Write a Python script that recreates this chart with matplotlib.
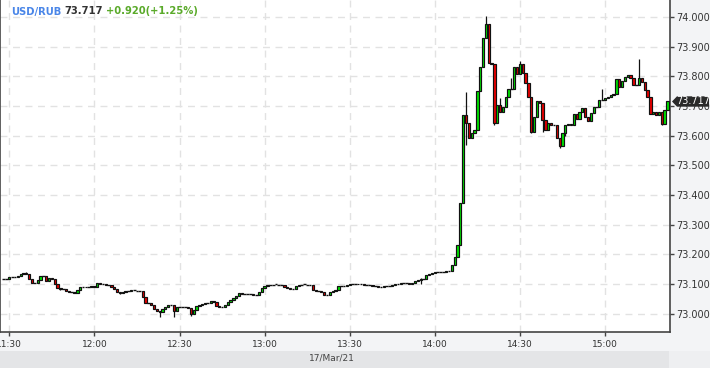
import matplotlib
matplotlib.use("Agg")
import matplotlib.pyplot as plt
from matplotlib.patches import Polygon, Rectangle
import numpy as np

# ---------------- data ----------------
closes = [
    73.118, 73.118, 73.125, 73.125, 73.125, 73.128, 73.135, 73.138, 73.135, 73.118,
    73.104, 73.104, 73.114, 73.128, 73.128, 73.111, 73.121, 73.118, 73.101, 73.088,
    73.084, 73.084, 73.077, 73.074, 73.074, 73.071, 73.081, 73.091, 73.090, 73.092,
    73.091, 73.093, 73.091, 73.104, 73.101, 73.101, 73.098, 73.098, 73.091, 73.084,
    73.074, 73.071, 73.074, 73.078, 73.077, 73.079, 73.078, 73.077, 73.077, 73.057,
    73.037, 73.037, 73.030, 73.017, 73.010, 73.007, 73.017, 73.024, 73.030, 73.030,
    73.010, 73.024, 73.024, 73.023, 73.024, 73.020, 73.000, 73.013, 73.027, 73.030,
    73.034, 73.037, 73.037, 73.044, 73.040, 73.027, 73.024, 73.024, 73.030, 73.040,
    73.047, 73.054, 73.061, 73.071, 73.068, 73.067, 73.068, 73.067, 73.064, 73.064,
    73.074, 73.088, 73.094, 73.097, 73.098, 73.099, 73.098, 73.097, 73.098, 73.091,
    73.088, 73.084, 73.084, 73.094, 73.098, 73.099, 73.098, 73.097, 73.098, 73.081,
    73.077, 73.077, 73.074, 73.064, 73.064, 73.074, 73.077, 73.081, 73.094, 73.094,
    73.094, 73.098, 73.101, 73.101, 73.102, 73.100, 73.101, 73.098, 73.097, 73.098,
    73.094, 73.095, 73.091, 73.091, 73.094, 73.095, 73.094, 73.098, 73.101, 73.102,
    73.104, 73.105, 73.104, 73.101, 73.104, 73.111, 73.114, 73.118, 73.118, 73.131,
    73.135, 73.138, 73.141, 73.141, 73.142, 73.141, 73.145, 73.145, 73.165, 73.192,
    73.232, 73.374, 73.670, 73.643, 73.593, 73.609, 73.620, 73.751, 73.832, 73.929,
    73.976, 73.845, 73.842, 73.643, 73.704, 73.680, 73.697, 73.731, 73.758, 73.757,
    73.832, 73.808, 73.842, 73.811, 73.778, 73.731, 73.613, 73.663, 73.717, 73.710,
    73.653, 73.620, 73.643, 73.636, 73.637, 73.593, 73.566, 73.609, 73.636, 73.640,
    73.636, 73.673, 73.657, 73.680, 73.694, 73.663, 73.650, 73.677, 73.697, 73.696,
    73.721, 73.720, 73.727, 73.731, 73.737, 73.741, 73.791, 73.764, 73.785, 73.798,
    73.805, 73.795, 73.771, 73.770, 73.795, 73.781, 73.754, 73.731, 73.673, 73.680,
    73.670, 73.680, 73.640, 73.687, 73.717,
]
first_open = 73.118
wick_highs = {163: 73.746, 170: 74.003, 175: 73.727, 179: 73.795, 182: 73.850,
              211: 73.758, 224: 73.857, 8: 73.142, 147: 73.122}
wick_lows = {55: 72.989, 60: 72.990, 66: 72.993, 147: 73.101, 163: 73.569,
             173: 73.636, 186: 73.610, 190: 73.613, 196: 73.560, 198: 73.600,
             232: 73.636, 20: 73.080, 41: 73.066}
start_minute = -2          # first candle at 11:28 (minutes after 11:30)
time_ticks = [0, 30, 60, 90, 120, 150, 180, 210]
time_labels = ["11:30", "12:00", "12:30", "13:00", "13:30", "14:00", "14:30", "15:00"]
price_ticks = [73.0, 73.1, 73.2, 73.3, 73.4, 73.5, 73.6, 73.7, 73.8, 73.9, 74.0]
date_label = "17/Mar/21"
symbol = "USD/RUB"
last_price = "73.717"
change_text = "+0.920(+1.25%)"

# ---------------- figure ----------------
W, H = 710, 368
fig = plt.figure(figsize=(W / 100, H / 100), dpi=100)
fig.patch.set_facecolor("#f3f4f6")

# date band
fig.patches.append(Rectangle((0, 0), 669 / W, 17 / H, transform=fig.transFigure,
                             facecolor="#e4e5e7", edgecolor="none", zorder=0))
fig.patches.append(Rectangle((669 / W, 0), 41 / W, 17 / H, transform=fig.transFigure,
                             facecolor="#eeeff1", edgecolor="none", zorder=0))

ax = fig.add_axes([0, 36 / H, 670 / W, 332 / H])
ax.set_facecolor("white")

opens = [first_open] + closes[:-1]
n = len(closes)
xs = np.arange(n) + start_minute
green, red = "#00e400", "#ea0000"
bw = 0.8
for x, o, c in zip(xs, opens, closes):
    i = int(x - start_minute)
    lo_b, hi_b = min(o, c), max(o, c)
    hi = wick_highs.get(i, hi_b)
    lo = wick_lows.get(i, lo_b)
    if hi > hi_b:
        ax.vlines(x, hi_b, hi, color="#111111", lw=0.9, zorder=2)
    if lo < lo_b:
        ax.vlines(x, lo, lo_b, color="#111111", lw=0.9, zorder=2)
    if hi_b - lo_b < 0.0015:
        ax.hlines(o, x - bw / 2 - 0.1, x + bw / 2 + 0.1, color="#111111", lw=1.0, zorder=3)
    else:
        ax.add_patch(Rectangle((x - bw / 2, lo_b), bw, hi_b - lo_b,
                               facecolor=green if c >= o else red,
                               edgecolor="#111111", lw=0.85, zorder=3))

ax.set_xlim(-3.28, 232.9)
ax.set_ylim(72.939, 74.057)

ax.yaxis.tick_right()
ax.set_yticks(price_ticks)
ax.set_yticklabels([f"{p:.3f}" for p in price_ticks])
ax.set_xticks(time_ticks)
ax.set_xticklabels(time_labels)
ax.tick_params(axis="y", direction="out", length=3, width=1, color="#444444",
               labelsize=7, labelcolor="#333333", pad=1.5)
ax.tick_params(axis="x", direction="out", length=3, width=1, color="#444444",
               labelsize=6.5, labelcolor="#333333", pad=2.5)

ax.grid(True, color="#e2e2e2", linestyle=(0, (5, 4)), lw=1)
ax.set_axisbelow(True)
ax.spines["top"].set_visible(False)
for s in ["left", "right", "bottom"]:
    ax.spines[s].set_color("#444444")
    ax.spines[s].set_linewidth(1.2)

# date label
fig.text(332 / W, 1 - 358 / H, date_label, ha="center", va="center",
         fontsize=6.5, color="#444444")

# title
ty = 1 - 11.5 / H
fig.text(11 / W, ty, symbol, ha="left", va="center", fontsize=7.2,
         fontweight="bold", color="#4a86e8")
fig.text(64 / W, ty, last_price, ha="left", va="center", fontsize=7.2,
         fontweight="bold", color="#333333")
fig.text(106 / W, ty, change_text, ha="left", va="center", fontsize=7.2,
         fontweight="bold", color="#5aaa2a")

# last price marker (covers the 73.700 tick label, as in the reference)
yp = 101.5
pts = [(672, yp), (677, yp - 5.2), (709, yp - 5.2), (709, yp + 5.2), (677, yp + 5.2)]
fig.patches.append(Polygon([(px / W, 1 - py / H) for px, py in pts], closed=True,
                           transform=fig.transFigure, facecolor="#2a2a2a",
                           edgecolor="none", zorder=5))
fig.text(693 / W, 1 - yp / H, last_price, ha="center", va="center", fontsize=7,
         color="white", zorder=6)

fig.savefig("out.png", dpi=100, facecolor=fig.get_facecolor())
